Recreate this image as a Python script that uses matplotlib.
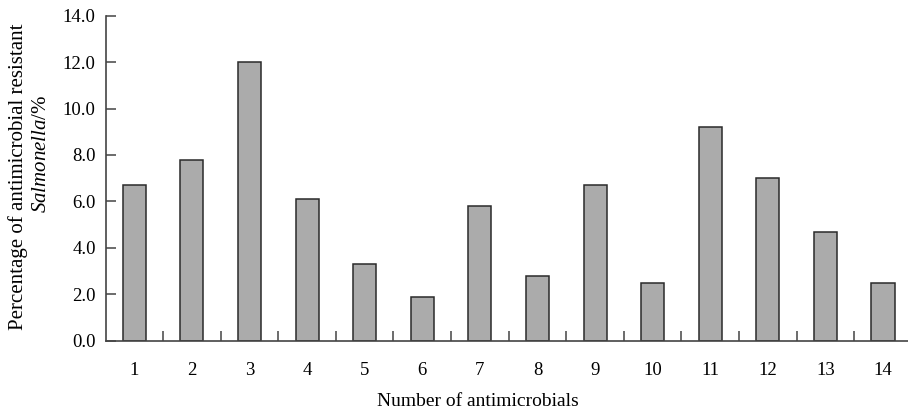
import matplotlib.pyplot as plt
import numpy as np

categories = [str(i) for i in range(1, 15)]
percent = [6.7, 7.8, 12.0, 6.1, 3.3, 1.9, 5.8, 2.8, 6.7, 2.5, 9.2, 7.0, 4.7, 2.5]
y_ticks = [0.0, 2.0, 4.0, 6.0, 8.0, 10.0, 12.0, 14.0]

plt.rcParams["font.family"] = ["Liberation Serif", "DejaVu Serif"]
plt.rcParams["mathtext.fontset"] = "custom"
plt.rcParams["mathtext.it"] = "Liberation Serif:italic"
plt.rcParams["mathtext.rm"] = "Liberation Serif"

W, H = 908, 415
fig = plt.figure(figsize=(W / 100, H / 100), dpi=100)
left, right, top, bottom = 105.5, 911.8, 15.7, 340.7
ax = fig.add_axes([left / W, 1 - bottom / H, (right - left) / W, (bottom - top) / H])

x = np.arange(1, len(categories) + 1)
ax.bar(x, percent, width=0.4, color="#ababab", edgecolor="#2a2a2a", linewidth=1.1)

ax.set_xlim(0.5, len(categories) + 0.5)
ax.set_ylim(0, 14)
ax.set_yticks(y_ticks)
ax.set_yticklabels([f"{v:.1f}" for v in y_ticks], fontsize=13.5)
ax.set_xticks(x)
ax.set_xticklabels(categories, fontsize=13.5)
ax.set_xticks(np.arange(1.5, len(categories), 1.0), minor=True)

for s in ["top", "right"]:
    ax.spines[s].set_visible(False)
for s in ["left", "bottom"]:
    ax.spines[s].set_color("#444444")
    ax.spines[s].set_linewidth(1.2)

ax.tick_params(axis="y", direction="in", length=7.5, width=1.1, color="#444444", pad=7)
ax.tick_params(axis="x", which="major", length=0, pad=15)
ax.tick_params(axis="x", which="minor", direction="in", length=7, width=1.1, color="#444444")

fig.text(478 / W, 1 - 401.7 / H, "Number of antimicrobials", ha="center", va="center", fontsize=14)
fig.text(18 / W, 1 - 177 / H, "Percentage of antimicrobial resistant", rotation=90,
         ha="center", va="center", fontsize=15)
fig.text(42 / W, 1 - 154 / H, "$\\it{Salmonella}$/%", rotation=90,
         ha="center", va="center", fontsize=15)

fig.savefig("out.png", dpi=100)
